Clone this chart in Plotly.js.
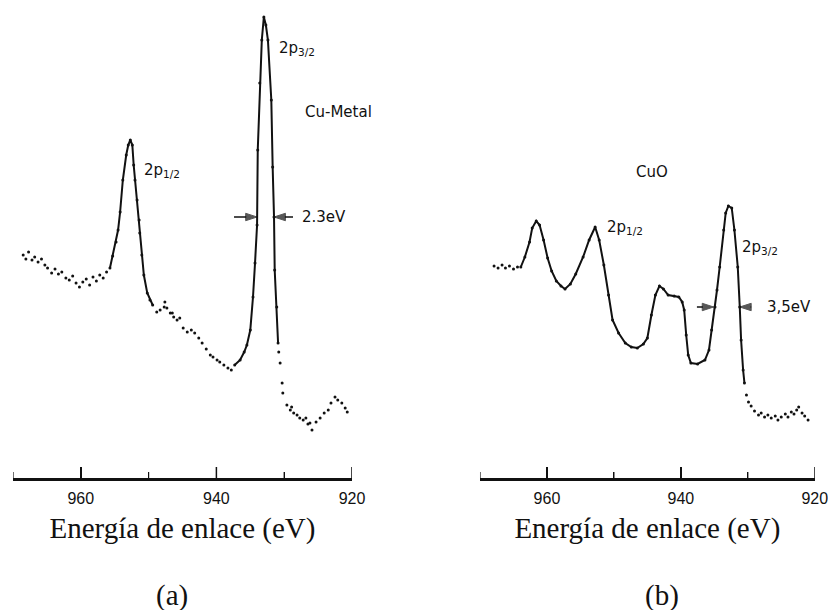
<!DOCTYPE html>
<html>
<head>
<meta charset="utf-8">
<script src="https://cdn.plot.ly/plotly-3.0.1.min.js"></script>
<style>html,body{margin:0;padding:0;background:#fff;}#chart{width:828px;height:610px;}</style>
</head>
<body>
<div id="chart"></div>
<script>
// ---------- (a) Cu metal : binding energy (eV) / intensity (arb. units) ----------
const metalDots1E = [968.5,968.1,967.7,967.2,966.8,966.3,965.8,965.3,964.9,964.3,963.8,963.3,962.8,962.2,961.7,961.2,960.7,960.2,959.7,959.2,958.7,958.2,957.7,957.2,956.7,956.2];
const metalDots1I = [223,219,226,218,221,216,219,213,210,205,209,204,206,200,198,202,195,191,196,199,193,201,197,203,200,206];
const metalPeak1E = [955.7,955.3,954.8,954.5,954.2,953.8,953.3,953.0,952.7,952.4,952.2,952.0,951.7,951.4,951.3,951.0,950.7,950.2,949.8,949.4];
const metalPeak1I = [210,222,236,248,266,298,323,333,338,333,313,298,278,258,245,223,203,185,178,173];
const metalDots2E = [948.8,948.3,947.7,947.6,947.3,946.8,946.5,946.3,945.8,945.4,944.9,944.3,943.7,943.2,942.6,942.1,941.5,940.9,940.5,939.9,939.5,938.9,938.3,937.8];
const metalDots2I = [166,168,171,176,170,165,165,161,158,160,150,146,148,145,140,135,129,123,121,118,116,113,110,108];
const metalPeak2E = [937.3,936.5,935.9,935.5,935.0,934.6,934.3,934.0,933.9,933.6,933.3,933.0,932.7,932.4,931.9,931.7,931.5,931.4,931.1,930.9];
const metalPeak2I = [113,118,126,133,148,181,215,253,328,395,438,461,453,438,378,311,261,208,171,135];
const metalDots3E = [930.8,930.6,930.3,930.2,929.6,929.1,928.9,928.6,928.1,927.7,927.2,926.8,926.5,926.2,925.9,925.3,924.7,924.1,923.5,923.1,922.5,922.1,921.5,921.0,920.7];
const metalDots3I = [126,115,95,85,73,68,71,65,63,60,58,60,54,55,48,56,60,65,68,75,81,78,75,70,66];

// ---------- (b) CuO ----------
const oxideDots1E = [967.9,967.3,966.7,966.2,965.6,965.0,964.4];
const oxideDots1I = [212,210,213,210,212,209,211];
const oxideLineE = [963.9,963.3,962.6,962.2,961.6,961.1,960.5,959.9,959.3,958.6,957.9,957.3,956.5,955.7,954.6,953.7,952.8,952.2,951.5,950.8,950.2,949.3,948.3,947.4,946.5,945.6,945.0,944.4,943.8,943.2,942.6,941.9,941.0,940.3,939.8,939.5,939.2,938.9,938.5,937.5,936.4,935.8,935.4,934.9,934.6,934.2,933.6,933.3,932.9,932.4,932.0,931.5,931.2,931.0,930.7,930.5];
const oxideLineI = [211,221,236,250,257,253,238,220,207,197,192,189,194,204,221,238,251,238,213,183,158,145,135,131,130,134,140,163,183,192,189,183,182,181,176,168,143,123,115,114,118,128,148,171,188,211,248,265,272,270,248,211,171,138,108,95];
const oxideDots2E = [930.2,929.9,929.5,929.0,928.4,928.0,927.5,927.0,926.5,925.9,925.5,925.0,924.4,924.0,923.5,923.1,922.7,922.4,921.9,921.5,921.0];
const oxideDots2I = [83,76,72,67,63,65,61,63,60,62,58,61,64,61,66,64,68,71,65,62,58];

// FWHM markers: [tail, head] energies, and their height
const fwhmMetalLeft = [937.4, 934.0];
const fwhmMetalRight = [928.7, 931.5];
const fwhmMetalI = 261;
const fwhmOxideLeft = [937.6, 935.1];
const fwhmOxideRight = [929.5, 931.2];
const fwhmOxideI = 171;

// axis ticks (eV)
const majorTicks = [960, 940, 920];
const minorTicks = [970, 950, 930];
const axisTitle = 'Energía de enlace (eV)';

const black = '#111111';
function dots(x, y, xa, ya) {
  return {x, y, xaxis: xa, yaxis: ya, type: 'scatter', mode: 'markers',
          marker: {color: black, size: 3}, hoverinfo: 'x+y', showlegend: false};
}
function solid(x, y, xa, ya) {
  return {x, y, xaxis: xa, yaxis: ya, type: 'scatter', mode: 'lines+markers',
          line: {color: black, width: 2}, marker: {color: black, size: 3},
          hoverinfo: 'x+y', showlegend: false};
}
function arrowTrace(xs, yv, xa, ya) {
  return {x: xs, y: [yv, yv], xaxis: xa, yaxis: ya, type: 'scatter', mode: 'lines+markers',
          line: {color: black, width: 1.5},
          marker: {color: black, symbol: 'arrow', angleref: 'previous', size: [0, 12], standoff: 0,
                   line: {color: black, width: 1}},
          hoverinfo: 'skip', showlegend: false};
}

const traces = [
  dots(metalDots1E, metalDots1I, 'x', 'y'),
  solid(metalPeak1E, metalPeak1I, 'x', 'y'),
  dots(metalDots2E, metalDots2I, 'x', 'y'),
  solid(metalPeak2E, metalPeak2I, 'x', 'y'),
  dots(metalDots3E, metalDots3I, 'x', 'y'),
  arrowTrace(fwhmMetalLeft, fwhmMetalI, 'x', 'y'),
  arrowTrace(fwhmMetalRight, fwhmMetalI, 'x', 'y'),
  dots(oxideDots1E, oxideDots1I, 'x2', 'y2'),
  solid(oxideLineE, oxideLineI, 'x2', 'y2'),
  dots(oxideDots2E, oxideDots2I, 'x2', 'y2'),
  arrowTrace(fwhmOxideLeft, fwhmOxideI, 'x2', 'y2'),
  arrowTrace(fwhmOxideRight, fwhmOxideI, 'x2', 'y2')
];

function xAxis(domain, anchor) {
  return {
    domain, anchor, range: [970, 920], autorange: false,
    showline: true, linecolor: black, linewidth: 2.8, mirror: false,
    showgrid: false, zeroline: false,
    tickmode: 'array', tickvals: majorTicks, ticktext: majorTicks.map(String),
    ticks: 'inside', ticklen: 11, tickwidth: 1.5, tickcolor: black,
    minor: {tickmode: 'array', tickvals: minorTicks, ticks: 'inside', ticklen: 6, tickwidth: 1.2, tickcolor: black, showgrid: false},
    ticklabelstandoff: 4, ticklabeloverflow: 'allow',
    tickfont: {family: 'Liberation Sans, Arial, sans-serif', size: 16, color: black},
    title: {text: axisTitle, font: {family: 'Liberation Serif, Times New Roman, serif', size: 29, color: black}, standoff: 12}
  };
}
function yAxis(anchor) {
  return {domain: [0, 1], anchor, range: [0, 468], autorange: false, visible: false, fixedrange: true};
}

// tick marks reinforced as shapes on each axis (y in intensity units: 1 unit = 1 px)
const shapes = [];
[['x', 'y'], ['x2', 'y2']].forEach(([xr, yr]) => {
  majorTicks.forEach(v => shapes.push({type: 'line', xref: xr, yref: yr, x0: v, x1: v, y0: 0, y1: 11,
    line: {color: black, width: 1.5}, layer: 'above'}));
  minorTicks.forEach(v => shapes.push({type: 'line', xref: xr, yref: yr, x0: v, x1: v, y0: 0, y1: 6,
    line: {color: black, width: 1.2}, layer: 'above'}));
});

const labelFont = {family: 'DejaVu Sans, sans-serif', size: 15, color: black};
function txt(xref, yref, x, y, text, xanchor) {
  return {xref, yref, x, y, text, showarrow: false, xanchor: xanchor || 'left', yanchor: 'middle', font: labelFont};
}

const serif = {family: 'Liberation Serif, Times New Roman, serif', size: 29, color: black};
const annotations = [
  txt('x', 'y', 931.1, 430, '2p<sub>3/2</sub>'),
  txt('x', 'y', 927.2, 366, 'Cu-Metal'),
  txt('x', 'y', 951.0, 308, '2p<sub>1/2</sub>'),
  txt('x', 'y', 927.7, 261, '2.3eV'),
  txt('x2', 'y2', 944.3, 306, 'CuO', 'center'),
  txt('x2', 'y2', 951.4, 251, '2p<sub>1/2</sub>'),
  txt('x2', 'y2', 931.2, 231, '2p<sub>3/2</sub>'),
  txt('x2', 'y2', 927.5, 171, '3,5eV'),
  {xref: 'paper', yref: 'paper', x: 0.208, y: -0.25, text: '(a)', showarrow: false, xanchor: 'center', yanchor: 'middle', font: serif},
  {xref: 'paper', yref: 'paper', x: 0.80, y: -0.25, text: '(b)', showarrow: false, xanchor: 'center', yanchor: 'middle', font: serif}
];

const layout = {
  width: 828, height: 610,
  margin: {l: 0, r: 0, t: 10, b: 132, pad: 0},
  paper_bgcolor: '#ffffff', plot_bgcolor: '#ffffff',
  showlegend: false,
  xaxis: xAxis([0.0157, 0.4251], 'y'),
  yaxis: yAxis('x'),
  xaxis2: xAxis([0.5797, 0.984], 'y2'),
  yaxis2: yAxis('x2'),
  shapes,
  annotations
};

Plotly.newPlot('chart', traces, layout, {displayModeBar: false, staticPlot: true});
</script>
</body>
</html>
